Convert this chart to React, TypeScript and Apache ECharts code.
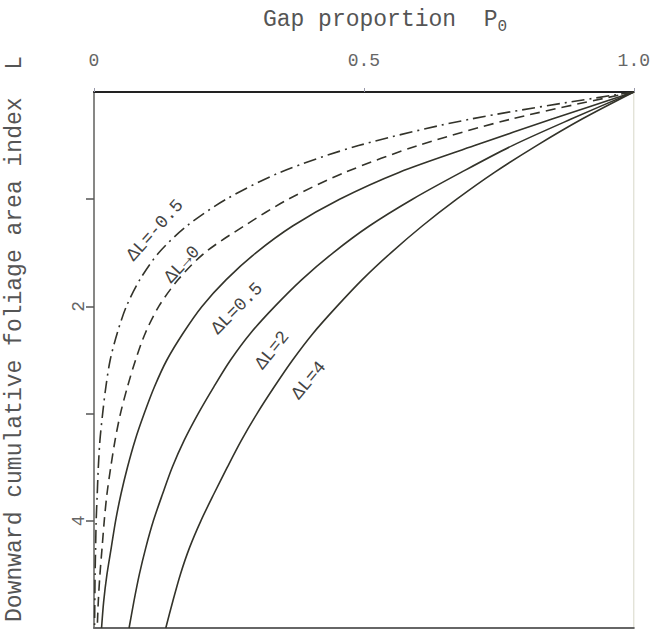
import React, { useEffect, useRef } from "react";
import * as echarts from "echarts";

const FONT = '"Liberation Mono", "DejaVu Sans Mono", monospace';

// Curve names (labels drawn along the curves)
const curveLabels = ["ΔL=-0.5", "ΔL→0", "ΔL=0.5", "ΔL=2", "ΔL=4"];

// Downward cumulative foliage area index L (shared sampling depths)
const L_values = [0, 0.25, 0.5, 0.75, 1, 1.25, 1.5, 1.75, 2, 2.25, 2.5, 2.75, 3, 3.25, 3.5, 3.75, 4, 4.25, 4.5, 4.75, 5];

// Gap proportion P0 read for each curve at the depths above
const P_m05 = [1, 0.7, 0.49, 0.345, 0.245, 0.172, 0.12, 0.085, 0.06, 0.043, 0.03, 0.022, 0.016, 0.011, 0.008, 0.006, 0.004, 0.003, 0.002, 0.0015, 0.001];
const P_0 = [1, 0.775, 0.6, 0.465, 0.36, 0.278, 0.205, 0.156, 0.12, 0.095, 0.077, 0.062, 0.049, 0.039, 0.031, 0.024, 0.019, 0.015, 0.011, 0.008, 0.006];
const P_05 = [1, 0.85, 0.705, 0.565, 0.455, 0.368, 0.3, 0.245, 0.2, 0.165, 0.135, 0.112, 0.093, 0.076, 0.062, 0.05, 0.04, 0.032, 0.024, 0.018, 0.014];
const P_2 = [1, 0.885, 0.775, 0.68, 0.59, 0.51, 0.443, 0.385, 0.335, 0.29, 0.253, 0.222, 0.193, 0.167, 0.145, 0.127, 0.11, 0.096, 0.084, 0.074, 0.065];
const P_4 = [1, 0.905, 0.82, 0.742, 0.672, 0.608, 0.55, 0.497, 0.45, 0.406, 0.368, 0.334, 0.302, 0.273, 0.247, 0.222, 0.198, 0.177, 0.16, 0.146, 0.133];

// Label anchor positions (data coords) and angles (deg)
const labelP = [0.113, 0.163, 0.265, 0.33, 0.398];
const labelL = [1.29, 1.61, 2.02, 2.41, 2.69];
const labelAngle = [48, 47, 45, 51, 50];

const xTickLabels: Record<string, string> = { "0": "0", "0.5": "0.5", "1": "1.0" };

const LINE_COLOR = "#33332a";

function pairs(P: number[]) {
  return P.map((p, i) => [p, L_values[i]]);
}

export default function App() {
  const ref = useRef<HTMLDivElement>(null);

  useEffect(() => {
    if (!ref.current) return;
    const chart = echarts.init(ref.current, null, { renderer: "svg" });

    const mk = (data: number[][], type: any) => ({
      type: "line",
      data,
      xAxisIndex: 0,
      yAxisIndex: 0,
      showSymbol: false,
      symbol: "none",
      smooth: 0.3,
      lineStyle: { color: LINE_COLOR, width: 1.6, type },
      emphasis: { disabled: true },
    });

    const option: any = {
      animation: false,
      backgroundColor: "#ffffff",
      grid: {
        left: 94,
        top: 92,
        right: 19,
        bottom: 3,
        show: true,
        borderColor: "#d8d8c8",
        borderWidth: 1,
      },
      xAxis: [
        {
          type: "value",
          position: "top",
          min: 0,
          max: 1,
          interval: 0.5,
          axisLine: { show: true, lineStyle: { color: "#222", width: 2 } },
          axisTick: { show: true, length: 4, lineStyle: { color: "#99a" } },
          axisLabel: {
            formatter: (v: number) => xTickLabels[String(v)] ?? "",
            fontFamily: FONT,
            fontSize: 18,
            color: "#666",
            margin: 22,
          },
          splitLine: { show: false },
        },
        {
          type: "value",
          position: "bottom",
          min: 0,
          max: 1,
          axisLine: { show: true, lineStyle: { color: "#666", width: 2 } },
          axisTick: { show: false },
          axisLabel: { show: false },
          splitLine: { show: false },
        },
      ],
      yAxis: {
        type: "value",
        inverse: true,
        min: 0,
        max: 5,
        interval: 1,
        axisLine: { show: true, lineStyle: { color: "#666", width: 1.5 } },
        axisTick: { show: true, length: 8, lineStyle: { color: "#555", width: 1.5 }, customValues: [1, 2, 3, 4] },
        axisLabel: {
          formatter: (v: number) => (v === 2 || v === 4 ? String(v) : ""),
          rotate: 90,
          fontFamily: FONT,
          fontSize: 18,
          color: "#666",
          margin: 6,
        },
        splitLine: { show: false },
      },
      series: [
        mk(pairs(P_m05), [13, 5, 2, 5]),
        mk(pairs(P_0), [10, 6]),
        mk(pairs(P_05), "solid"),
        mk(pairs(P_2), "solid"),
        mk(pairs(P_4), "solid"),
      ],
    };
    chart.setOption(option);

    const labels = curveLabels.map((t, i) => {
      const pt = chart.convertToPixel({ gridIndex: 0 }, [labelP[i], labelL[i]]) as number[];
      return {
        type: "text",
        x: pt[0],
        y: pt[1],
        rotation: (labelAngle[i] * Math.PI) / 180,
        style: {
          text: t,
          x: 0,
          y: 0,
          align: "center",
          verticalAlign: "middle",
          font: `18px ${FONT}`,
          fill: "#444",
        },
      };
    });

    chart.setOption({
      graphic: [
        {
          type: "text",
          x: 385,
          y: 20,
          style: {
            text: "Gap proportion  P{s|0}",
            align: "center",
            verticalAlign: "middle",
            font: `23px ${FONT}`,
            fill: "#555",
            rich: { s: { fontFamily: FONT, fontSize: 16, fill: "#555", verticalAlign: "bottom", padding: [14, 0, 0, 0] } },
          },
        },
        {
          type: "text",
          x: 15,
          y: 339,
          rotation: Math.PI / 2,
          style: {
            text: "Downward cumulative foliage area index  L",
            align: "center",
            verticalAlign: "middle",
            font: `23px ${FONT}`,
            fill: "#555",
          },
        },
        ...labels,
      ],
    });

    return () => chart.dispose();
  }, []);

  return <div ref={ref} style={{ position: "absolute", left: 0, top: 0, width: 653, height: 631 }} />;
}
